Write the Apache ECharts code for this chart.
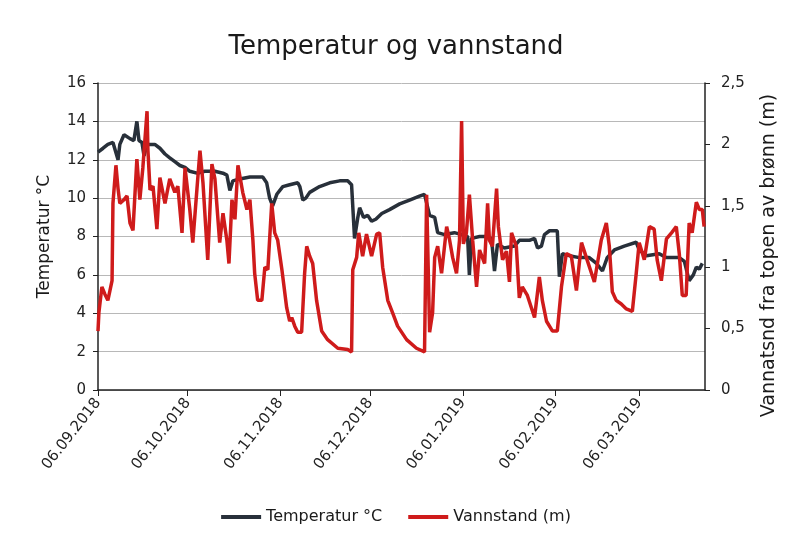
<!DOCTYPE html>
<html lang="no">
<head>
    <meta charset="UTF-8">
    <title>Temperatur og vannstand</title>
    <script src="https://cdn.jsdelivr.net/npm/echarts@6/dist/echarts.min.js"></script>
    <style>
        html, body { margin: 0; padding: 0; background: #fff; }
        #main { width: 792px; height: 541px; }
    </style>
</head>
<body>
<div id="main"></div>
<script>
    // dager etter 06.09.2018
    var tickDays = [0, 30, 61, 91, 122, 153, 181];
    var tickLabels = ['06.09.2018', '06.10.2018', '06.11.2018', '06.12.2018', '06.01.2019', '06.02.2019', '06.03.2019'];

    // temperatur (°C)
    var tempDays = [0, 1.7, 3.3, 5.0, 6.7, 7.3, 8.7, 10.7, 12.0, 13.0, 13.7, 14.7, 15.4, 16.4, 19.0, 20.7, 22.4, 24.0, 25.7, 27.4,
        29.1, 30.7, 33.1, 35.7, 39.1, 41.8, 43.1, 44.1, 45.1, 47.4, 50.8, 55.1, 56.4, 57.4, 58.4, 59.8, 61.8, 64.1, 66.8, 67.5,
        68.5, 69.5, 70.8, 74.1, 77.5, 80.8, 83.5, 84.8, 85.8, 86.9, 87.5, 88.8, 90.2, 91.5, 92.9, 94.9, 97.5, 100.9, 104.2, 107.5,
        109.2, 110.9, 112.6, 113.6, 115.9, 119.2, 121.6, 123.6, 124.2, 124.9, 127.6, 129.3, 131.6, 132.6, 133.6, 135.9, 139.3, 140.9, 144.3, 146.0,
        147.0, 148.3, 149.3, 151.0, 153.6, 154.3, 155.3, 157.6, 161.0, 164.3, 166.7, 168.7, 170.3, 172.7, 176.0, 180.0, 181.0, 183.4, 187.7, 190.1,
        194.4, 196.1, 197.7, 199.1, 200.1, 201.1, 202.1];
    var tempValues = [12.4, 12.6, 12.8, 12.9, 12.0, 12.8, 13.3, 13.1, 13.0, 14.0, 13.0, 12.9, 12.2, 12.8, 12.8, 12.6, 12.3, 12.1, 11.9, 11.7,
        11.6, 11.4, 11.3, 11.4, 11.4, 11.3, 11.2, 10.4, 10.9, 11.0, 11.1, 11.1, 10.8, 10.0, 9.6, 10.2, 10.6, 10.7, 10.8, 10.6,
        9.9, 10.0, 10.3, 10.6, 10.8, 10.9, 10.9, 10.7, 7.9, 9.0, 9.5, 9.0, 9.1, 8.8, 8.9, 9.2, 9.4, 9.7, 9.9, 10.1,
        10.2, 9.1, 9.0, 8.2, 8.1, 8.2, 8.1, 8.0, 6.0, 7.9, 8.0, 8.0, 7.9, 6.2, 7.6, 7.4, 7.5, 7.8, 7.8, 7.9,
        7.4, 7.5, 8.1, 8.3, 8.3, 5.9, 7.1, 7.0, 6.9, 6.9, 6.6, 6.2, 6.9, 7.3, 7.5, 7.7, 7.3, 7.0, 7.1, 6.9,
        6.9, 6.7, 5.7, 6.0, 6.4, 6.3, 6.6];

    // vannstand (m)
    var levelDays = [0, 0.3, 1.3, 2.3, 3.3, 4.7, 5.0, 6.0, 6.7, 7.3, 8.7, 9.7, 10.7, 11.7, 13.0, 14.0, 15.0, 16.4, 16.7, 17.4,
        18.4, 19.7, 20.7, 22.4, 24.0, 25.7, 26.7, 28.1, 29.1, 30.7, 31.7, 33.1, 34.1, 35.1, 36.7, 38.1, 39.1, 40.7, 41.8, 43.1,
        43.8, 44.8, 45.8, 46.8, 48.4, 49.8, 50.8, 51.8, 52.4, 53.4, 54.8, 55.8, 56.8, 58.1, 59.1, 60.1, 61.5, 63.1, 64.1, 64.8,
        65.8, 66.8, 68.1, 69.1, 69.8, 70.8, 71.8, 73.1, 74.8, 76.8, 80.2, 83.5, 84.8, 85.2, 86.5, 87.2, 88.5, 89.8, 91.5, 93.2,
        94.2, 95.2, 96.9, 98.5, 100.2, 103.2, 106.5, 109.2, 109.9, 110.9, 111.9, 112.6, 113.6, 114.9, 116.6, 117.6, 118.6, 119.9, 120.9, 121.6,
        122.2, 123.2, 124.2, 125.3, 126.6, 127.6, 129.3, 130.3, 130.9, 131.9, 133.3, 133.9, 135.3, 136.6, 137.6, 138.3, 139.9, 140.9, 141.9, 143.6,
        146.0, 147.6, 148.6, 150.0, 152.0, 153.6, 155.0, 156.6, 158.3, 160.0, 161.7, 163.3, 166.0, 168.3, 170.0, 171.0, 172.0, 173.3, 175.0, 176.7,
        178.7, 180.0, 181.0, 182.7, 184.4, 186.0, 187.0, 188.4, 190.1, 191.8, 193.4, 194.4, 195.4, 196.7, 197.7, 198.7, 200.1, 201.1, 202.1, 202.7];
    var levelValues = [0.48, 0.63, 0.84, 0.78, 0.73, 0.89, 1.52, 1.83, 1.64, 1.52, 1.55, 1.58, 1.36, 1.30, 1.88, 1.55, 1.81, 2.27, 1.95, 1.63,
        1.66, 1.31, 1.73, 1.52, 1.72, 1.61, 1.66, 1.28, 1.81, 1.47, 1.20, 1.64, 1.95, 1.69, 1.06, 1.84, 1.72, 1.20, 1.44, 1.22,
        1.03, 1.55, 1.39, 1.83, 1.61, 1.47, 1.55, 1.22, 0.95, 0.73, 0.73, 1.00, 0.98, 1.52, 1.28, 1.22, 0.98, 0.67, 0.56, 0.59,
        0.52, 0.47, 0.47, 0.95, 1.17, 1.09, 1.03, 0.73, 0.48, 0.41, 0.34, 0.33, 0.31, 0.98, 1.08, 1.28, 1.09, 1.27, 1.09, 1.27,
        1.28, 1.00, 0.73, 0.63, 0.52, 0.41, 0.34, 0.31, 1.59, 0.47, 0.63, 1.08, 1.17, 0.95, 1.33, 1.22, 1.08, 0.95, 1.22, 2.19,
        1.19, 1.28, 1.59, 1.22, 0.84, 1.14, 1.03, 1.52, 1.22, 1.17, 1.64, 1.33, 1.06, 1.13, 0.88, 1.28, 1.17, 0.75, 0.84, 0.77,
        0.59, 0.92, 0.73, 0.56, 0.48, 0.48, 0.84, 1.11, 1.09, 0.81, 1.20, 1.08, 0.88, 1.22, 1.36, 1.17, 0.80, 0.73, 0.70, 0.66,
        0.64, 0.95, 1.20, 1.06, 1.33, 1.31, 1.06, 0.89, 1.23, 1.28, 1.33, 1.11, 0.77, 0.77, 1.36, 1.28, 1.53, 1.47, 1.47, 1.33];

    function pairs(xs, ys) {
        return xs.map(function (x, i) { return [x, ys[i]]; });
    }

    var font = 'DejaVu Sans, Verdana, sans-serif';
    var chart = echarts.init(document.getElementById('main'));

    var option = {
        backgroundColor: '#fff',
        animation: false,
        title: {
            text: 'Temperatur og vannstand',
            left: 'center',
            top: 29,
            textStyle: { fontFamily: font, fontSize: 26, fontWeight: 'normal', color: '#1a1a1a' }
        },
        legend: {
            bottom: 11,
            left: 'center',
            icon: 'rect',
            itemWidth: 40,
            itemHeight: 4,
            itemGap: 26,
            textStyle: { fontFamily: font, fontSize: 16, color: '#1a1a1a' },
            data: ['Temperatur °C', 'Vannstand (m)']
        },
        grid: { left: 98, right: 87, top: 83, bottom: 151 },
        xAxis: {
            type: 'value',
            min: 0,
            max: 203,
            splitLine: { show: false },
            axisLine: { lineStyle: { color: '#222', width: 1.5 } },
            axisTick: { show: true, length: 6, customValues: tickDays, lineStyle: { color: '#222' } },
            axisLabel: {
                customValues: tickDays,
                rotate: 52,
                fontFamily: font,
                fontSize: 15,
                color: '#222',
                margin: 10,
                formatter: function (v) {
                    var i = tickDays.indexOf(v);
                    return i >= 0 ? tickLabels[i] : '';
                }
            }
        },
        yAxis: [
            {
                type: 'value',
                min: 0,
                max: 16,
                interval: 2,
                name: 'Temperatur °C',
                nameLocation: 'middle',
                nameRotate: 90,
                nameGap: 45,
                nameTextStyle: { fontFamily: font, fontSize: 17, color: '#1a1a1a' },
                axisLine: { show: true, lineStyle: { color: '#222', width: 1.5 } },
                axisTick: { show: true, length: 5, lineStyle: { color: '#222' } },
                axisLabel: { fontFamily: font, fontSize: 15, color: '#222', margin: 12 },
                splitLine: { show: true, lineStyle: { color: '#b8b8b8', width: 1 } }
            },
            {
                type: 'value',
                min: 0,
                max: 2.5,
                interval: 0.5,
                position: 'right',
                name: 'Vannatsnd fra topen av brønn (m)',
                nameLocation: 'middle',
                nameRotate: 90,
                nameGap: 55,
                nameTextStyle: { fontFamily: font, fontSize: 19, color: '#1a1a1a', padding: [0, 38, 0, 0] },
                axisLine: { show: true, lineStyle: { color: '#222', width: 1.5 } },
                axisTick: { show: true, length: 5, lineStyle: { color: '#222' } },
                axisLabel: {
                    fontFamily: font, fontSize: 15, color: '#222', margin: 16,
                    formatter: function (v) { return String(v).replace('.', ','); }
                },
                splitLine: { show: false }
            }
        ],
        series: [
            {
                name: 'Temperatur °C',
                type: 'line',
                yAxisIndex: 0,
                showSymbol: false,
                data: pairs(tempDays, tempValues),
                lineStyle: { color: '#28303a', width: 3.5 },
                itemStyle: { color: '#28303a' }
            },
            {
                name: 'Vannstand (m)',
                type: 'line',
                yAxisIndex: 1,
                showSymbol: false,
                data: pairs(levelDays, levelValues),
                lineStyle: { color: '#cf1b1b', width: 3.5 },
                itemStyle: { color: '#cf1b1b' }
            }
        ]
    };

    chart.setOption(option);
</script>
</body>
</html>
